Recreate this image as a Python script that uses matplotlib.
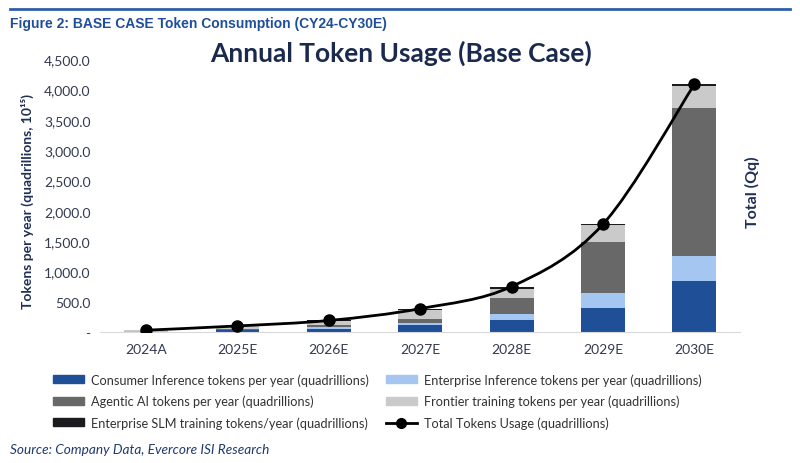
import matplotlib
matplotlib.use("Agg")
import matplotlib.pyplot as plt
import numpy as np
from matplotlib.path import Path
from matplotlib.patches import PathPatch, Patch
from matplotlib.lines import Line2D
from matplotlib.ticker import FuncFormatter

plt.rcParams['font.family'] = ['Lato', 'DejaVu Sans']

years = ["2024A", "2025E", "2026E", "2027E", "2028E", "2029E", "2030E"]
consumer = [8, 25, 55, 110, 195, 395, 840]
enterprise = [4, 12, 25, 45, 110, 246, 415]
agentic = [2, 10, 30, 54, 250, 840, 2430]
frontier = [12, 45, 70, 154, 150, 280, 370]
slm = [4, 8, 10, 22, 40, 15, 25]
total = [30, 100, 190, 385, 750, 1776, 4080]

series = [
    ("Consumer Inference tokens per year (quadrillions)", consumer, "#1f4f96"),
    ("Enterprise Inference tokens per year (quadrillions)", enterprise, "#a4c6f0"),
    ("Agentic AI tokens per year (quadrillions)", agentic, "#686868"),
    ("Frontier training tokens per year (quadrillions)", frontier, "#cacaca"),
    ("Enterprise SLM training tokens/year (quadrillions)", slm, "#1a1a1f"),
]

navy = "#1f2f55"
tickc = "#343a52"

fig = plt.figure(figsize=(8, 4.64), dpi=100)
ax = fig.add_axes([0.1255, 0.2823, 0.7995, 0.5884])

x = np.arange(len(years))
bottom = np.zeros(len(years))
for name, vals, col in series:
    ax.bar(x, vals, width=0.48, bottom=bottom, color=col, zorder=2)
    bottom += np.array(vals)

# smoothed total line (Catmull-Rom -> cubic Bezier)
px = x.astype(float)
py = np.array(total, dtype=float)
verts = [(px[0], py[0])]
codes = [Path.MOVETO]
n = len(px)
for i in range(n - 1):
    p0 = (px[max(i - 1, 0)], py[max(i - 1, 0)])
    p1 = (px[i], py[i])
    p2 = (px[i + 1], py[i + 1])
    p3 = (px[min(i + 2, n - 1)], py[min(i + 2, n - 1)])
    c1 = (p1[0] + (p2[0] - p0[0]) / 6, p1[1] + (p2[1] - p0[1]) / 6)
    c2 = (p2[0] - (p3[0] - p1[0]) / 6, p2[1] - (p3[1] - p1[1]) / 6)
    verts += [c1, c2, p2]
    codes += [Path.CURVE4] * 3
ax.add_patch(PathPatch(Path(verts, codes), facecolor="none", edgecolor="black",
                       lw=2, zorder=3))
ax.plot(px, py, "o", color="black", markersize=8, zorder=4)

ax.set_xlim(-0.5, len(years) - 0.5)
ax.set_ylim(0, 4500)
ax.set_yticks(np.arange(0, 4501, 500))
ax.yaxis.set_major_formatter(FuncFormatter(lambda v, p: "-" if v == 0 else f"{v:,.1f}"))
ax.set_xticks(x)
ax.set_xticklabels(years)
ax.tick_params(axis="both", length=0, labelsize=10, labelcolor=tickc)
ax.tick_params(axis="x", pad=8)
ax.tick_params(axis="y", pad=7)
for s in ["top", "right", "left"]:
    ax.spines[s].set_visible(False)
ax.spines["bottom"].set_color("#d9d9d9")

fig.text(0.034, 0.565, "Tokens per year (quadrillions, 10¹⁵)", rotation=90,
         ha="center", va="center", fontsize=10, fontweight="bold", color=navy)
fig.text(0.941, 0.586, "Total (Qq)", rotation=90, ha="center", va="center",
         fontsize=11.5, fontweight="bold", color=navy)

fig.text(0.501, 0.886, "Annual Token Usage (Base Case)", ha="center", va="center",
         fontsize=19, fontweight="bold", color="#1a2a4e")
fig.text(0.0125, 0.948, "Figure 2: BASE CASE Token Consumption (CY24-CY30E)",
         ha="left", va="center", fontsize=10, fontweight="bold", color="#1f4f9a",
         family="Liberation Sans")
fig.add_artist(Line2D([0.0125, 0.9875], [0.978, 0.978], transform=fig.transFigure,
                      color="#2e5fa8", lw=2))

handles = [
    Patch(color=series[0][2], label=series[0][0]),
    Patch(color=series[2][2], label=series[2][0]),
    Patch(color=series[4][2], label=series[4][0]),
    Patch(color=series[1][2], label=series[1][0]),
    Patch(color=series[3][2], label=series[3][0]),
    Line2D([], [], color="black", lw=2, marker="o", markersize=7,
           label="Total Tokens Usage (quadrillions)"),
]
leg = fig.legend(handles=handles, ncol=2, loc="upper left",
                 bbox_to_anchor=(0.052, 0.218), frameon=False, fontsize=9.2,
                 handlelength=2.4, handleheight=0.6, labelspacing=0.7,
                 columnspacing=1.3, handletextpad=0.6, labelcolor="#333333")

fig.text(0.0125, 0.03, "Source: Company Data, Evercore ISI Research", ha="left",
         va="center", fontsize=9.8, style="italic", color="#1f3a6e")

fig.savefig("out.png", dpi=100)
